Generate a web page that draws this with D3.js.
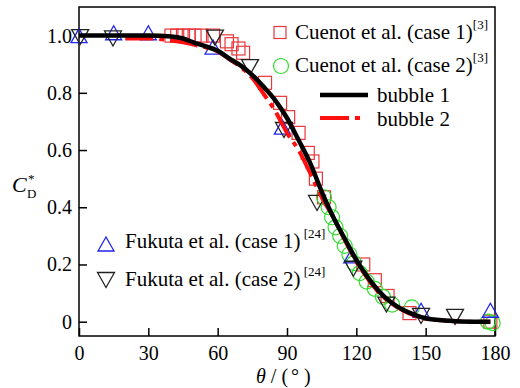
<html>
<head>
    <title></title>
    <script src='https://d3js.org/d3.v7.min.js'></script>
    <style>
        body { margin: 0; background-color: white; }
        svg text { font-family: "Liberation Serif", "Times New Roman", Times, "DejaVu Serif", serif !important; fill: black; }
    </style>
</head>
<body>

<script>

// measured data
var cuenot1 = [[40, 1.0], [42.5, 1.0], [45, 1.0], [47.5, 1.0], [50, 1.0], [53, 1.0], [58, 1.0],
               [64, 0.98], [66, 0.97], [69, 0.955], [71, 0.94], [80.5, 0.835], [87, 0.765],
               [90.5, 0.715], [95, 0.66], [99, 0.59], [101, 0.56], [102.5, 0.5], [106, 0.435],
               [123, 0.2], [128, 0.145], [133.5, 0.09], [143, 0.03], [178, 0.0]];

var cuenot2 = [[106, 0.435], [108, 0.4], [109.5, 0.365], [111, 0.33], [113, 0.3], [115, 0.265],
               [117, 0.235], [119, 0.205], [121.5, 0.17], [124.5, 0.14], [128, 0.115],
               [131.5, 0.087], [135.5, 0.06], [144, 0.05], [177, 0.0], [179, -0.005]];

var fukuta1 = [[0, 1.0], [15, 1.01], [30, 1.01], [58, 0.96], [88, 0.68], [118, 0.23],
               [148, 0.04], [178, 0.04]];

var fukuta2 = [[0.5, 0.995], [14.7, 0.99], [58.8, 0.993], [74, 0.89], [88.7, 0.67], [103, 0.415],
               [118.7, 0.185], [133, 0.06], [148, 0.02], [162.7, 0.017]];

var bubble1 = [[0, 1.0], [10, 1.0], [20, 1.0], [30, 1.0], [40, 0.997], [45, 0.99], [50, 0.975],
               [55, 0.962], [60, 0.947], [65, 0.92], [70, 0.895], [75, 0.862], [80, 0.82],
               [85, 0.773], [90, 0.712], [95, 0.635], [100, 0.555], [105, 0.455], [110, 0.366],
               [115, 0.29], [120, 0.215], [125, 0.155], [130, 0.105], [135, 0.068], [140, 0.043],
               [145, 0.025], [150, 0.012], [160, 0.003], [170, 0.0], [178, 0.0]];

var bubble2 = [[20, 0.99], [30, 0.99], [40, 0.983], [45, 0.977], [50, 0.968], [55, 0.958],
               [60, 0.945], [65, 0.918], [70, 0.89], [75, 0.852], [80, 0.795], [85, 0.735],
               [90, 0.66], [95, 0.6], [100, 0.52], [105, 0.435], [110, 0.366], [115, 0.285],
               [120, 0.21], [125, 0.15], [130, 0.1], [135, 0.065], [140, 0.04], [145, 0.022],
               [150, 0.01], [160, 0.003], [170, 0.0], [178, 0.0]];

var xTicks = [0, 30, 60, 90, 120, 150, 180];
var yTicks = [0, 0.2, 0.4, 0.6, 0.8, 1.0];
var yTickLabels = ['0', '0.2', '0.4', '0.6', '0.8', '1.0'];

var plotL = 79, plotR = 495, plotT = 7, plotB = 336;

var svg = d3.select('body')
        .append('svg')
        .attr('width', 520)
        .attr('height', 388);

var x = d3.scaleLinear().domain([0, 180]).range([plotL, plotR]);
var y = d3.scaleLinear().domain([-0.05, 1.1]).range([plotB, plotT]);

var line = d3.line()
    .x(function(d) { return x(d[0]); })
    .y(function(d) { return y(d[1]); })
    .curve(d3.curveMonotoneX);

// axes with inward ticks
svg.append('g')
    .attr('transform', 'translate(0,' + plotB + ')')
    .call(d3.axisBottom(x).tickValues(xTicks).tickSizeInner(-8).tickSizeOuter(0).tickPadding(10))
    .call(function(g) {
        g.attr('font-family', null).attr('font-size', 20);
        g.select('.domain').remove();
        g.selectAll('line').attr('stroke', 'black').attr('stroke-width', 1.5);
    });

svg.append('g')
    .attr('transform', 'translate(' + plotL + ',0)')
    .call(d3.axisLeft(y).tickValues(yTicks).tickSizeInner(-8).tickSizeOuter(0).tickPadding(7)
            .tickFormat(function(d, i) { return yTickLabels[i]; }))
    .call(function(g) {
        g.attr('font-family', null).attr('font-size', 20);
        g.select('.domain').remove();
        g.selectAll('line').attr('stroke', 'black').attr('stroke-width', 1.5);
    });

svg.append('rect')
    .attr('x', plotL)
    .attr('y', plotT)
    .attr('width', plotR - plotL)
    .attr('height', plotB - plotT)
    .attr('fill', 'none')
    .attr('stroke', 'black')
    .attr('stroke-width', 1.5);

var triUp = 'M-8,7L8,7L0,-7Z';
var triDown = 'M-8.5,-7.5L8.5,-7.5L0,7.5Z';

var drawSquares = function(g, data) {
    g.selectAll(null).data(data).enter().append('rect')
        .attr('x', function(d) { return x(d[0]) - 6.5; })
        .attr('y', function(d) { return y(d[1]) - 6.5; })
        .attr('width', 13).attr('height', 13)
        .attr('fill', 'none').attr('stroke', '#e8383c').attr('stroke-width', 1.2);
};

var drawCircles = function(g, data) {
    g.selectAll(null).data(data).enter().append('circle')
        .attr('cx', function(d) { return x(d[0]); })
        .attr('cy', function(d) { return y(d[1]); })
        .attr('r', 7.5)
        .attr('fill', 'none').attr('stroke', '#33dd33').attr('stroke-width', 1.2);
};

var drawTri = function(g, data, shape, color) {
    g.selectAll(null).data(data).enter().append('path')
        .attr('d', shape)
        .attr('transform', function(d) { return 'translate(' + x(d[0]) + ',' + y(d[1]) + ')'; })
        .attr('fill', 'none').attr('stroke', color).attr('stroke-width', 1.3);
};

var marks = svg.append('g');
drawSquares(marks, cuenot1);
drawCircles(marks, cuenot2);
drawTri(marks, fukuta1, triUp, '#2222ee');
drawTri(marks, fukuta2, triDown, '#222');

svg.append('path')
    .datum(bubble2)
    .attr('d', line)
    .attr('fill', 'none')
    .attr('stroke', '#ff1010')
    .attr('stroke-width', 4)
    .attr('stroke-dasharray', '28,6,5,6');

svg.append('path')
    .datum(bubble1)
    .attr('d', line)
    .attr('fill', 'none')
    .attr('stroke', 'black')
    .attr('stroke-width', 4.5);

// legend, top right
var leg = svg.append('g');
leg.append('rect').attr('x', 274).attr('y', 26.5).attr('width', 12).attr('height', 12)
    .attr('fill', 'none').attr('stroke', '#e8383c').attr('stroke-width', 1.2);
leg.append('circle').attr('cx', 281).attr('cy', 66).attr('r', 7.5)
    .attr('fill', 'none').attr('stroke', '#33dd33').attr('stroke-width', 1.2);
leg.append('line').attr('x1', 320).attr('x2', 368).attr('y1', 95).attr('y2', 95)
    .attr('stroke', 'black').attr('stroke-width', 4.5);
leg.append('line').attr('x1', 320).attr('x2', 362).attr('y1', 118).attr('y2', 118)
    .attr('stroke', '#ff1010').attr('stroke-width', 4).attr('stroke-dasharray', '29,6,5,6');

var legRows = [
    {x: 295, y: 39, text: 'Cuenot et al. (case 1)', sup: '[3]'},
    {x: 295, y: 72, text: 'Cuenot et al. (case 2)', sup: '[3]'},
    {x: 377, y: 102, text: 'bubble 1', sup: ''},
    {x: 377, y: 126, text: 'bubble 2', sup: ''},
    {x: 125, y: 248, text: 'Fukuta et al. (case 1)', sup: ' [24]'},
    {x: 125, y: 286, text: 'Fukuta et al. (case 2)', sup: ' [24]'}
];

legRows.forEach(function(r) {
    var t = svg.append('text')
        .attr('x', r.x)
        .attr('y', r.y)
        .attr('font-size', 21)
        .text(r.text);
    if (r.sup) {
        t.append('tspan').attr('dy', -10).attr('font-size', 13).text(r.sup);
    }
});

// legend, bottom left
svg.append('path').attr('d', triUp).attr('transform', 'translate(106,244)')
    .attr('fill', 'none').attr('stroke', '#2222ee').attr('stroke-width', 1.3);
svg.append('path').attr('d', triDown).attr('transform', 'translate(106,280)')
    .attr('fill', 'none').attr('stroke', '#222').attr('stroke-width', 1.3);

// axis titles
svg.append('text').attr('x', 12).attr('y', 192).attr('font-size', 22)
    .attr('font-style', 'italic').text('C');
svg.append('text').attr('x', 28).attr('y', 183).attr('font-size', 13).text('*');
svg.append('text').attr('x', 27).attr('y', 198).attr('font-size', 13).text('D');

var xl = svg.append('text').attr('x', 256).attr('y', 383).attr('font-size', 20);
xl.append('tspan').attr('font-style', 'italic').text('θ');
xl.append('tspan').text(' / (');
xl.append('tspan').attr('dx', 3).text('°');
xl.append('tspan').attr('dx', 5).text(')');

</script>

</body>
</html>
